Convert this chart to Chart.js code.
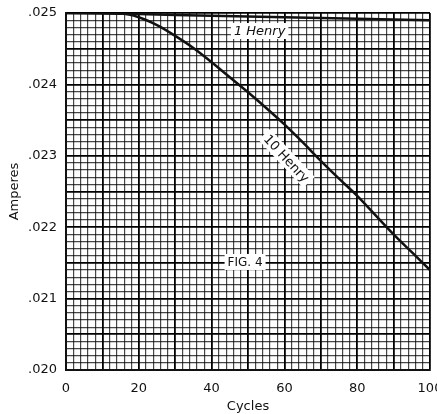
<!DOCTYPE html>
<html>
<head>
<meta charset="utf-8">
<script src="https://cdn.jsdelivr.net/npm/chart.js@4.4.1/dist/chart.umd.min.js"></script>
<style>
    html, body { margin: 0; padding: 0; background: #fff; overflow: hidden; }
    #wrap { width: 441px; height: 414px; }
</style>
</head>
<body>
<div id="wrap"><canvas id="chart"></canvas></div>
<script>
// cycles (x) and current in amperes (y)
const cycles = [0, 5, 10, 15, 20, 25, 30, 35, 40, 45, 50, 55, 60, 65, 70, 75, 80, 85, 90, 95, 100];
const tenHenry = [0.02500, 0.02500, 0.02500, 0.024995, 0.02494, 0.02483, 0.02468, 0.02451, 0.02431,
                  0.02410, 0.02389, 0.02367, 0.02344, 0.02319, 0.02293, 0.02268, 0.02244, 0.02217,
                  0.02190, 0.02165, 0.02140];
const oneHenryCycles = [0, 20, 40, 60, 80, 100];
const oneHenry = [0.02500, 0.024985, 0.02496, 0.02494, 0.02492, 0.02490];
const xTickLabels = [0, 20, 40, 60, 80, 100];
const yTickLabels = [0.020, 0.021, 0.022, 0.023, 0.024, 0.025];

const FONT = "'DejaVu Sans', sans-serif";

// labels written on the graph paper
const paperLabels = {
    id: 'paperLabels',
    afterDatasetsDraw(chart) {
        const { ctx, scales: { x, y } } = chart;
        const put = (text, cx, cy, angle, font) => {
            ctx.save();
            ctx.translate(x.getPixelForValue(cx), y.getPixelForValue(cy));
            ctx.rotate(angle * Math.PI / 180);
            ctx.font = font;
            const w = ctx.measureText(text).width;
            ctx.fillStyle = '#fff';
            ctx.fillRect(-w / 2 - 3, -8, w + 6, 16);
            ctx.fillStyle = '#111';
            ctx.textAlign = 'center';
            ctx.textBaseline = 'middle';
            ctx.fillText(text, 0, 1);
            ctx.restore();
        };
        put('1 Henry', 53.2, 0.024748, 0, 'italic 13px ' + FONT);
        put('10 Henry', 60.6, 0.022964, 47, '13px ' + FONT);
        put('FIG. 4', 49.2, 0.021513, 0, '12px ' + FONT);
    }
};

const isMajorX = v => Math.round(v) % 10 === 0;
const isMajorY = v => Math.round(v * 10000) % 5 === 0;

new Chart(document.getElementById('chart'), {
    type: 'line',
    data: {
        datasets: [
            {
                label: '10 Henry',
                data: cycles.map((c, i) => ({ x: c, y: tenHenry[i] })),
                borderColor: '#111',
                borderWidth: 2.5,
                pointRadius: 0,
                tension: 0.4,
                cubicInterpolationMode: 'monotone'
            },
            {
                label: '1 Henry',
                data: oneHenryCycles.map((c, i) => ({ x: c, y: oneHenry[i] })),
                borderColor: '#111',
                borderWidth: 2.5,
                pointRadius: 0,
                tension: 0.4
            }
        ]
    },
    options: {
        responsive: true,
        maintainAspectRatio: false,
        animation: false,
        layout: { padding: { top: 13, left: 0, right: 0, bottom: 0 } },
        plugins: { legend: { display: false }, tooltip: { enabled: false } },
        scales: {
            x: {
                type: 'linear',
                min: 0,
                max: 100,
                afterFit: s => { s.height = 44; s.paddingRight = 11; s.paddingLeft = 0; },
                border: { display: true, color: '#111', width: 2 },
                grid: {
                    drawTicks: false,
                    color: c => isMajorX(c.tick.value) ? '#000' : 'rgba(0,0,0,0.72)',
                    lineWidth: c => isMajorX(c.tick.value) ? 1.8 : 1.2
                },
                ticks: {
                    stepSize: 2,
                    autoSkip: false,
                    maxRotation: 0,
                    padding: 11,
                    color: '#111',
                    font: { family: FONT, size: 13 },
                    callback: v => xTickLabels.includes(Math.round(v)) && Math.abs(v - Math.round(v)) < 1e-6 ? String(Math.round(v)) : ''
                },
                title: {
                    display: true,
                    text: 'Cycles',
                    color: '#111',
                    font: { family: FONT, size: 13 },
                    padding: { top: 0, bottom: 0 }
                }
            },
            y: {
                type: 'linear',
                min: 0.020,
                max: 0.025,
                afterFit: s => { s.width = 66; s.paddingTop = 0; s.paddingBottom = 0; },
                border: { display: true, color: '#111', width: 2 },
                grid: {
                    drawTicks: false,
                    color: c => isMajorY(c.tick.value) ? '#000' : 'rgba(0,0,0,0.72)',
                    lineWidth: c => isMajorY(c.tick.value) ? 1.8 : 1.2
                },
                ticks: {
                    stepSize: 0.0001,
                    autoSkip: false,
                    padding: 9,
                    color: '#111',
                    font: { family: FONT, size: 13 },
                    callback: v => {
                        const k = Math.round(v * 10000);
                        if (k % 10 !== 0) return '';
                        const hit = yTickLabels.find(t => Math.abs(t - v) < 1e-7);
                        return hit !== undefined ? '.' + hit.toFixed(3).slice(2) : '';
                    }
                },
                title: {
                    display: true,
                    text: 'Amperes',
                    color: '#111',
                    font: { family: FONT, size: 13 },
                    padding: { top: 7, bottom: 0 }
                }
            }
        }
    },
    plugins: [paperLabels]
});
</script>
</body>
</html>
